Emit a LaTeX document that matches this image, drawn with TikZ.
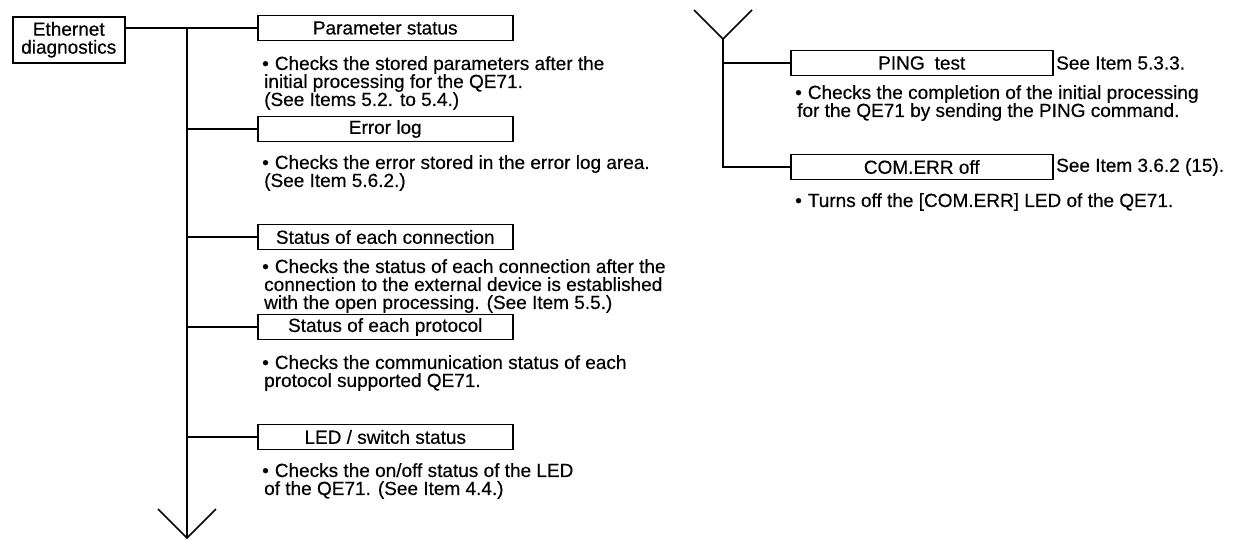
\documentclass[tikz,border=0pt]{standalone}
\usepackage{fontspec}
\setmainfont{Liberation Sans}[FakeBold=0.4]
\begin{document}
\begin{tikzpicture}[x=1pt,y=-1pt,
  font=\fontsize{19}{18}\selectfont,
  ln/.style={line width=1.5pt},
  lbox/.style={draw, line width=1.5pt, inner sep=0pt, minimum width=255pt, minimum height=25pt, anchor=west},
  rbox/.style={draw, line width=1.5pt, inner sep=0pt, minimum width=262pt, minimum height=25pt, anchor=west},
  txt/.style={anchor=north west, inner sep=0pt, align=left},
  note/.style={anchor=west, inner sep=0pt}]
\useasboundingbox (0,0) rectangle (1242,539);
\newcommand{\bul}{•\hspace{6pt}}
\newcommand{\cont}{\hspace*{2pt}}
% left part
\node[draw, line width=1.5pt, minimum width=112pt, minimum height=46pt, inner sep=0pt, align=center, anchor=north west] (eth) at (12,16) {Ethernet\\diagnostics};
\node[lbox] (p1) at (257,28) {Parameter status};
\node[txt] (b1) at (262,56) {\bul Checks the stored parameters after the\\\cont initial processing for the QE71.\\\cont (See Items 5.2. to 5.4.)};
\node[lbox] (e1) at (257,129) {Error log};
\node[txt] (b2) at (262,155) {\bul Checks the error stored in the error log area.\\\cont (See Item 5.6.2.)};
\node[lbox] (c1) at (257,237) {Status of each connection};
\node[txt] (b3) at (262,259) {\bul Checks the status of each connection after the\\\cont connection to the external device is established\\\cont with the open processing. (See Item 5.5.)};
\node[lbox] (s1) at (257,327) {Status of each protocol};
\node[txt] (b4) at (262,355) {\bul Checks the communication status of each\\\cont protocol supported QE71.};
\node[lbox] (l1) at (257,437) {LED / switch status};
\node[txt] (b5) at (262,463) {\bul Checks the on/off status of the LED\\\cont of the QE71. (See Item 4.4.)};
\coordinate (t0) at (187,28);
\coordinate (tend) at (187,538);
\coordinate (al) at (158,509);
\coordinate (ar) at (216,509);
\draw[ln] (eth.east |- t0) -- (p1.west);
\draw[ln] (t0) -- (tend);
\draw[ln] (al) -- (tend) -- (ar);
\draw[ln] (t0 |- e1.west) -- (e1.west);
\draw[ln] (t0 |- c1.west) -- (c1.west);
\draw[ln] (t0 |- s1.west) -- (s1.west);
\draw[ln] (t0 |- l1.west) -- (l1.west);
% right part
\coordinate (y0) at (723,39);
\coordinate (yl) at (694,10);
\coordinate (yr) at (752,10);
\node[rbox] (pg) at (790,63) {PING\hspace{10pt}test};
\node[note] (pgn) at (1056,63) {See Item 5.3.3.};
\node[txt] (b6) at (795,85) {\bul Checks the completion of the initial processing\\\cont for the QE71 by sending the PING command.};
\node[rbox] (ce) at (790,167) {COM.ERR off};
\node[note] (cen) at (1056,167) {See Item 3.6.2 (15).};
\node[txt] (b7) at (795,193) {\bul Turns off the [COM.ERR] LED of the QE71.};
\draw[ln] (yl) -- (y0) -- (yr);
\draw[ln] (y0) -- (y0 |- ce.west) -- (ce.west);
\draw[ln] (y0 |- pg.west) -- (pg.west);
\end{tikzpicture}
\end{document}
